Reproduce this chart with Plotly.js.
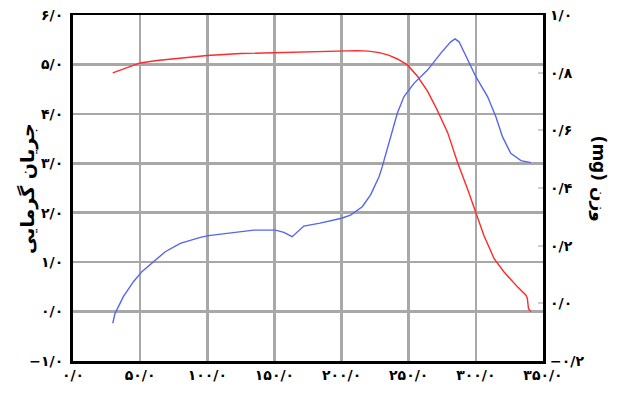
<!DOCTYPE html>
<html>
<head>
<meta charset="utf-8">
<script src="https://cdn.plot.ly/plotly-3.0.1.min.js"></script>
<style>html,body{margin:0;padding:0;background:#fff;}#chart{width:620px;height:393px;}</style>
</head>
<body>
<div id="chart"></div>
<script>
// Red curve (left axis)
var tempRed = [29.6, 40, 50, 62.5, 82, 100, 124.6, 150, 169, 199, 211.7, 220, 228, 235, 241.6, 249, 256.5, 264, 271, 279, 286.3, 293.8, 300, 306, 313.6, 321, 331, 337.3, 338.3, 339.2, 341];
var heatRed = [4.83, 4.93, 5.03, 5.08, 5.14, 5.18, 5.22, 5.24, 5.26, 5.28, 5.28, 5.27, 5.24, 5.19, 5.11, 4.99, 4.76, 4.46, 4.09, 3.62, 3.02, 2.48, 2.01, 1.54, 1.07, 0.80, 0.50, 0.33, 0.27, 0.06, 0.0];
// Blue curve (right axis)
var tempBlue = [29.6, 31.3, 37.5, 45, 51.3, 60, 68.7, 79.9, 94.8, 101, 119.6, 134.6, 150.8, 157, 163.2, 167, 171.9, 184, 200, 206.7, 215.4, 221.6, 227.9, 230.3, 235.3, 241.5, 246.5, 253.9, 264, 273.8, 281.3, 284.5, 287.5, 293.8, 300, 308.7, 314.9, 319.8, 326, 333.6, 339.8, 341];
var weightBlue = [-0.069, -0.035, 0.023, 0.075, 0.110, 0.144, 0.179, 0.208, 0.229, 0.235, 0.246, 0.254, 0.254, 0.246, 0.231, 0.248, 0.268, 0.278, 0.295, 0.306, 0.335, 0.376, 0.439, 0.474, 0.555, 0.659, 0.717, 0.763, 0.809, 0.867, 0.907, 0.917, 0.907, 0.844, 0.786, 0.717, 0.647, 0.578, 0.520, 0.495, 0.488, 0.488];

var xTickVals = [0, 50, 100, 150, 200, 250, 300, 350];
var xTickText = ["۰/۰", "۵۰/۰", "۱۰۰/۰", "۱۵۰/۰", "۲۰۰/۰", "۲۵۰/۰", "۳۰۰/۰", "۳۵۰/۰"];
var yTickVals = [-1, 0, 1, 2, 3, 4, 5, 6];
var yTickText = ["−۱/۰", "۰/۰", "۱/۰", "۲/۰", "۳/۰", "۴/۰", "۵/۰", "۶/۰"];
var y2TickVals = [-0.2, 0, 0.2, 0.4, 0.6, 0.8, 1.0];
var y2TickText = ["−۰/۲", "۰/۰", "۰/۲", "۰/۴", "۰/۶", "۰/۸", "۱/۰"];
var leftTitle = "جریان گرمایی";
var rightTitle = "\u202Bوزن (mg)\u202C";

var tickFont = {family: "DejaVu Sans", size: 14, color: "#000", weight: "bold"};

var traces = [
  {x: tempRed, y: heatRed, type: "scatter", mode: "lines", line: {color: "#ff2a2a", width: 1.4}, yaxis: "y", hoverinfo: "skip"},
  {x: tempBlue, y: weightBlue, type: "scatter", mode: "lines", line: {color: "#5566ee", width: 1.4}, yaxis: "y2", hoverinfo: "skip"}
];

var layout = {
  width: 620, height: 393,
  margin: {l: 73, r: 77, t: 15, b: 32},
  paper_bgcolor: "#fff", plot_bgcolor: "#fff",
  showlegend: false,
  xaxis: {
    range: [0, 350], tickvals: xTickVals, ticktext: xTickText,
    showgrid: true, gridcolor: "#a8a8a8", gridwidth: 2.5,
    showline: true, linecolor: "#000", linewidth: 2.5, mirror: true,
    ticks: "", tickfont: tickFont, zeroline: false
  },
  yaxis: {
    range: [-1, 6], tickvals: yTickVals, ticktext: yTickText,
    showgrid: true, gridcolor: "#a8a8a8", gridwidth: 2.5,
    showline: true, linecolor: "#000", linewidth: 3, mirror: true,
    ticks: "", tickfont: tickFont, zeroline: false, ticklabelstandoff: 4
  },
  yaxis2: {
    range: [-0.2, 1.0], tickvals: y2TickVals, ticktext: y2TickText,
    overlaying: "y", side: "right", showgrid: false, zeroline: false,
    showline: false,
    ticks: "inside", ticklen: 5, tickcolor: "#cfcfcf", tickwidth: 2,
    tickfont: tickFont, ticklabelstandoff: 6
  },
  annotations: [
    {text: leftTitle, xref: "paper", yref: "paper", x: -0.098, y: 0.5, showarrow: false, textangle: -90,
     font: {family: "DejaVu Sans", size: 19, color: "#000", weight: "bold"}, xanchor: "center", yanchor: "middle"},
    {text: rightTitle, xref: "paper", yref: "paper", x: 1.12, y: 0.526, showarrow: false, textangle: 90,
     font: {family: "DejaVu Sans", size: 17, color: "#000", weight: "bold"}, xanchor: "center", yanchor: "middle"}
  ]
};

Plotly.newPlot("chart", traces, layout, {displayModeBar: false, staticPlot: true});
</script>
</body>
</html>
